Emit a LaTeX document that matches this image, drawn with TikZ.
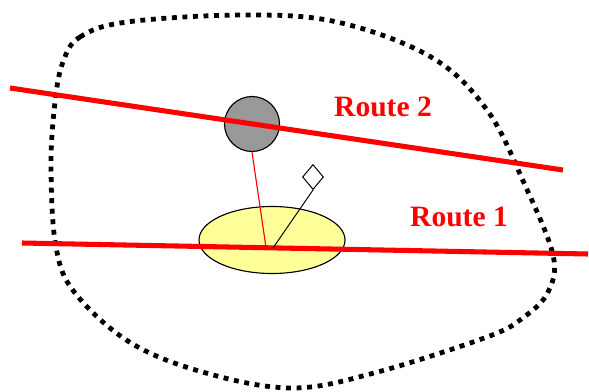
\documentclass[tikz,border=0pt]{standalone}
\usepackage{fontspec}
\setmainfont{Liberation Serif}
\usepackage{xcolor}
\usepackage{tikz}
\usetikzlibrary{shapes.geometric}
\definecolor{sitegray}{RGB}{153,153,153}
\definecolor{areayellow}{RGB}{255,255,153}

\begin{document}
\begin{tikzpicture}[x=0.025cm, y=-0.025cm,
  route/.style={draw=red, line width=3.6pt},
  link/.style={draw=red, line width=0.8pt},
  boundary/.style={draw=black, line width=3.4pt, dash pattern=on 3.5pt off 4pt},
  site/.style={draw, circle, fill=sitegray, minimum size=1.375cm, inner sep=0pt, line width=0.8pt},
  area/.style={draw, ellipse, fill=areayellow, minimum width=3.65cm, minimum height=1.675cm, inner sep=0pt, line width=0.8pt},
  marker/.style={draw, diamond, fill=white, minimum width=0.525cm, minimum height=0.625cm, inner sep=0pt, line width=0.7pt},
  routetext/.style={text=red, font=\bfseries\fontsize{21}{24}\selectfont},
]
  \useasboundingbox (0,0) rectangle (589,392);

  % Boundary of the region
  \draw[boundary] plot[smooth cycle, tension=0.6] coordinates {
    (63,62) (80,37) (127,22) (243,15) (337,22) (431,57) (487,110) (524,183)
    (553,255) (548,292) (524,317) (487,337) (374,373) (292,388)
    (206,373) (131,343) (75,293) (56,247) (51,167) (55,102)};

  % Objects
  \node[area] (zone) at (272,240) {};
  \node[site] (stop) at (252,124) {};
  \node[marker] (flag) at (313,177) {};

  % Route end points
  \coordinate (r1a) at (22,243);
  \coordinate (r1b) at (588,254);
  \coordinate (r2a) at (10,88);
  \coordinate (r2b) at (563,170);
  \coordinate (foot) at (266,247.5);
  \coordinate (base) at (273,248);

  % Routes
  \draw[route] (r1a) -- (r1b);
  \draw[route] (r2a) -- (r2b);

  % Links
  \draw[link] (stop.south) -- (foot);
  \draw[line width=0.7pt] (base) -- (flag.south);

  % Labels
  \node[routetext] (name2) at (383,107) {Route 2};
  \node[routetext] (name1) at (459,217) {Route 1};
\end{tikzpicture}
\end{document}
